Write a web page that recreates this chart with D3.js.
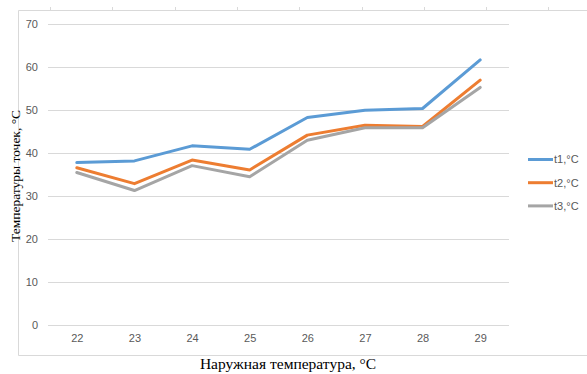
<!DOCTYPE html>
<html><head><meta charset="utf-8">
<script src="https://cdn.jsdelivr.net/npm/d3@7"></script>
<style>body{margin:0;background:#fff}svg{display:block}</style>
</head><body>
<svg id="c" width="587" height="374"></svg>
<script>
const categories = ["22","23","24","25","26","27","28","29"];
const t1 = [37.8, 38.2, 41.7, 40.9, 48.3, 50.0, 50.4, 61.7];
const t2 = [36.6, 32.9, 38.4, 36.1, 44.2, 46.5, 46.2, 57.0];
const t3 = [35.5, 31.3, 37.1, 34.5, 43.0, 45.9, 45.9, 55.3];
const seriesNames = ["t1,°C", "t2,°C", "t3,°C"];
const seriesColors = ["#5B9BD5", "#ED7D31", "#A5A5A5"];
const yTicks = [0, 10, 20, 30, 40, 50, 60, 70];
const series = [t1, t2, t3];

const svg = d3.select("#c");
const L = 48, R = 509, T = 24.3, B = 325;

// outer frame pieces
const frame = svg.append("g").attr("stroke", "#D9D9D9").attr("stroke-width", 1);
frame.append("line").attr("x1", 18.5).attr("x2", 587).attr("y1", 10.5).attr("y2", 10.5);
frame.append("line").attr("x1", 18.5).attr("x2", 18.5).attr("y1", 10.5).attr("y2", 355.5);
frame.append("line").attr("x1", 18.5).attr("x2", 587).attr("y1", 355.5).attr("y2", 355.5);
const topTicks = d3.range(9).map(i => 50 + i * 62.3);
frame.selectAll(".tt").data(topTicks).join("line")
  .attr("x1", d => Math.round(d) + 0.5).attr("x2", d => Math.round(d) + 0.5)
  .attr("y1", 7).attr("y2", 10.5);

const x = d3.scalePoint().domain(categories).range([L, R]).padding(0.5);
const y = d3.scaleLinear().domain([0, 70]).range([B, T]);

// gridlines
svg.append("g").selectAll("line").data(yTicks).join("line")
  .attr("x1", L).attr("x2", R)
  .attr("y1", d => Math.round(y(d)) + 0.5).attr("y2", d => Math.round(y(d)) + 0.5)
  .attr("stroke", "#D9D9D9").attr("stroke-width", 1);

// y axis labels
const yAxis = d3.axisLeft(y).tickValues(yTicks).tickSize(0).tickPadding(0);
const gy = svg.append("g").attr("transform", `translate(${L - 10},0)`).call(yAxis);
gy.select(".domain").remove();
gy.selectAll("text").attr("fill", "#595959").style("font-family", "'Liberation Sans', Arial, sans-serif").style("font-size", "11px");

// x axis labels
const xAxis = d3.axisBottom(x).tickSize(0).tickPadding(0);
const gx = svg.append("g").attr("transform", `translate(0,${B + 9})`).call(xAxis);
gx.select(".domain").remove();
gx.selectAll("text").attr("fill", "#595959").style("font-family", "'Liberation Sans', Arial, sans-serif").style("font-size", "11px");

// lines
const line = d3.line().x((d, i) => x(categories[i])).y(d => y(d));
series.forEach((s, k) => {
  svg.append("path").datum(s).attr("d", line)
    .attr("fill", "none").attr("stroke", seriesColors[k]).attr("stroke-width", 3)
    .attr("stroke-linejoin", "round").attr("stroke-linecap", "round");
});

// legend
const lg = svg.append("g");
seriesNames.forEach((n, k) => {
  const yy = 159.5 + k * 23.2;
  lg.append("line").attr("x1", 528).attr("x2", 553).attr("y1", yy).attr("y2", yy)
    .attr("stroke", seriesColors[k]).attr("stroke-width", 3);
  lg.append("text").attr("x", 554).attr("y", yy).attr("dy", "0.35em")
    .attr("fill", "#595959").style("font-family", "'Liberation Sans', Arial, sans-serif").style("font-size", "11px")
    .text(n);
});

// axis titles
svg.append("text").attr("transform", "translate(20,176) rotate(-90)")
  .attr("text-anchor", "middle").attr("fill", "#000")
  .style("font-family", "'Liberation Serif', 'Times New Roman', serif").style("font-size", "13.5px")
  .text("Температуры точек, °C");
svg.append("text").attr("x", 288).attr("y", 369)
  .attr("text-anchor", "middle").attr("fill", "#000")
  .style("font-family", "'Liberation Serif', 'Times New Roman', serif").style("font-size", "15.5px")
  .text("Наружная температура, °C");
</script>
</body></html>
